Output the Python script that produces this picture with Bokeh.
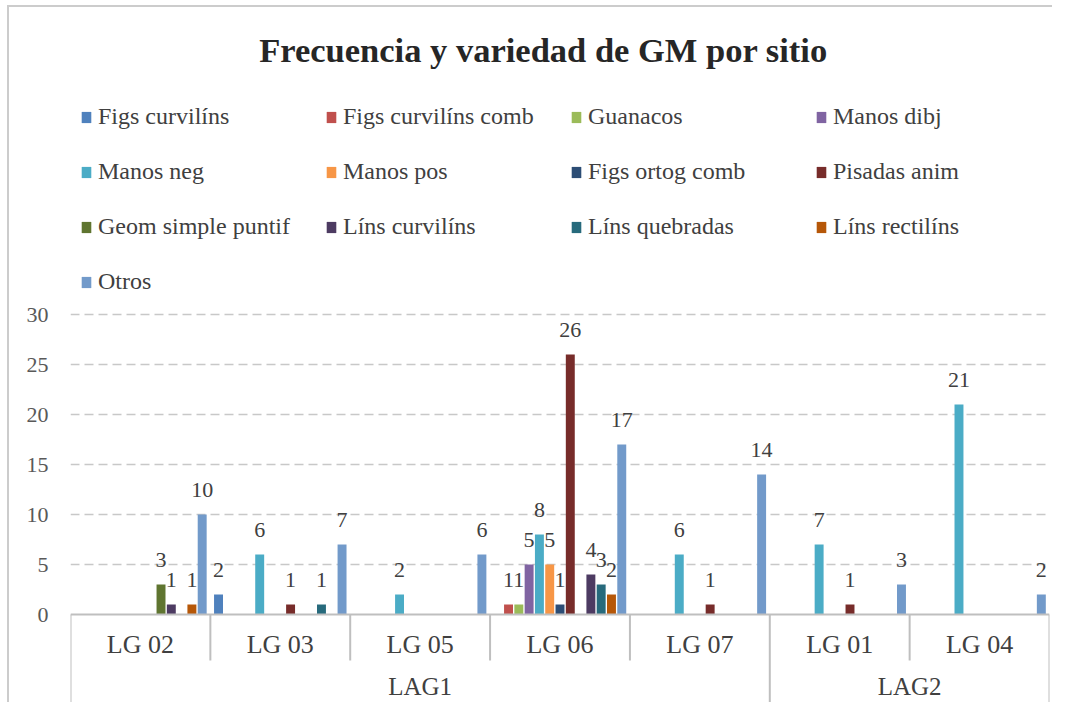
from bokeh.plotting import figure
from bokeh.models import (ColumnDataSource, FixedTicker, Legend, LegendItem, Label,
                          FactorRange, Range1d)
from bokeh.transform import dodge
from bokeh.core.properties import value
from bokeh.embed import file_html
from bokeh.resources import INLINE

# ---------------- data ----------------
sites = ["LG 02", "LG 03", "LG 05", "LG 06", "LG 07", "LG 01", "LG 04"]
site_groups = ["LAG1", "LAG1", "LAG1", "LAG1", "LAG1", "LAG2", "LAG2"]

series_names = ["Figs curvilíns", "Figs curvilíns comb", "Guanacos", "Manos dibj",
                "Manos neg", "Manos pos", "Figs ortog comb", "Pisadas anim",
                "Geom simple puntif", "Líns curvilíns", "Líns quebradas",
                "Líns rectilíns", "Otros"]

figs_curvilins = [0, 2, 0, 0, 0, 0, 0]
figs_curvilins_comb = [0, 0, 0, 1, 0, 0, 0]
guanacos = [0, 0, 0, 1, 0, 0, 0]
manos_dibj = [0, 0, 0, 5, 0, 0, 0]
manos_neg = [0, 6, 2, 8, 6, 7, 21]
manos_pos = [0, 0, 0, 5, 0, 0, 0]
figs_ortog_comb = [0, 0, 0, 1, 0, 0, 0]
pisadas_anim = [0, 1, 0, 26, 1, 1, 0]
geom_simple_puntif = [3, 0, 0, 0, 0, 0, 0]
lins_curvilins = [1, 0, 0, 4, 0, 0, 0]
lins_quebradas = [0, 1, 0, 3, 0, 0, 0]
lins_rectilins = [1, 0, 0, 2, 0, 0, 0]
otros = [10, 7, 6, 17, 14, 3, 2]

series_values = [figs_curvilins, figs_curvilins_comb, guanacos, manos_dibj, manos_neg,
                 manos_pos, figs_ortog_comb, pisadas_anim, geom_simple_puntif,
                 lins_curvilins, lins_quebradas, lins_rectilins, otros]

colors = ["#4F81BD", "#C0504D", "#9BBB59", "#8064A2", "#4BACC6", "#F79646",
          "#2C4D75", "#772C2A", "#5F7530", "#4D3B62", "#276A7C", "#B65708", "#729ACA"]

y_ticks = [0, 5, 10, 15, 20, 25, 30]
title_text = "Frecuencia y variedad de GM por sitio"

# ---------------- figure ----------------
FONT = "Liberation Serif"
p = figure(width=1052, height=702, output_backend="svg", toolbar_location=None,
           x_range=FactorRange(*sites, range_padding=0),
           y_range=Range1d(-8.8, 61.4),
           min_border_left=70, min_border_right=3, min_border_top=0, min_border_bottom=0)
p.outline_line_color = None
p.background_fill_color = None
p.border_fill_color = None
# chart-area border: thin grey lines along the left and top edge of the chart
p.styles = {
    "background": ("linear-gradient(#CCCCCC, #CCCCCC) 7px 5px / 2px 100% no-repeat, "
                   "linear-gradient(#CCCCCC, #CCCCCC) 7px 5px / 100% 2px no-repeat, white"),
}

p.xaxis.visible = False
p.xgrid.visible = False
p.yaxis.ticker = FixedTicker(ticks=y_ticks)
p.yaxis.axis_line_color = None
p.yaxis.major_tick_line_color = None
p.yaxis.minor_tick_line_color = None
p.yaxis.major_label_standoff = 16
p.yaxis.major_label_text_font = FONT
p.yaxis.major_label_text_font_size = "22px"
p.yaxis.major_label_text_color = "#595959"
p.ygrid.ticker = FixedTicker(ticks=[t for t in y_ticks if t > 0])
p.ygrid.grid_line_color = "#C8C8C8"
p.ygrid.grid_line_width = 1.5
p.ygrid.grid_line_dash = "9 5"

src = ColumnDataSource(dict(site=sites, **{f"s{i}": v for i, v in enumerate(series_values)}))

n = len(series_names)
slot = 0.0736
bar_w = 0.064
items = []
for i, (name, col) in enumerate(zip(series_names, colors)):
    off = (i - (n - 1) / 2) * slot
    r = p.vbar(x=dodge("site", off, range=p.x_range), top=f"s{i}", width=bar_w,
               source=src, fill_color=col, line_color=None)
    items.append(LegendItem(label=name, renderers=[r]))
    vals = series_values[i]
    lsrc = ColumnDataSource(dict(site=[s for s, v in zip(sites, vals) if v != 0],
                                 y=[v for v in vals if v != 0],
                                 t=[str(v) for v in vals if v != 0]))
    p.text(x=dodge("site", off, range=p.x_range), y="y", text="t", source=lsrc,
           text_align="center", text_baseline="middle", y_offset=-25,
           text_font=value(FONT), text_font_size="22px", text_color="#404040")

# ---------------- category table below the bars ----------------
line_col = "#BFBFBF"
base = ColumnDataSource(dict(a=[sites[0]], b=[sites[-1]]))
p.segment(x0=dodge("a", -0.5, range=p.x_range), y0=0, x1=dodge("b", 0.5, range=p.x_range), y1=0,
          source=base, line_color=line_col, line_width=2)

inner = [s for k, s in enumerate(sites) if k > 0 and site_groups[k] == site_groups[k - 1]]
outer = [s for k, s in enumerate(sites) if k == 0 or site_groups[k] != site_groups[k - 1]]
isrc = ColumnDataSource(dict(x=inner))
osrc = ColumnDataSource(dict(x=outer))
esrc = ColumnDataSource(dict(x=[sites[-1]]))
p.segment(x0=dodge("x", -0.5, range=p.x_range), y0=0, x1=dodge("x", -0.5, range=p.x_range), y1=-4.6,
          source=isrc, line_color=line_col, line_width=2)
p.segment(x0=dodge("x", -0.5, range=p.x_range), y0=0, x1=dodge("x", -0.5, range=p.x_range), y1=-8.8,
          source=osrc, line_color=line_col, line_width=2)
p.segment(x0=dodge("x", 0.5, range=p.x_range), y0=0, x1=dodge("x", 0.5, range=p.x_range), y1=-8.8,
          source=esrc, line_color=line_col, line_width=2)

csrc = ColumnDataSource(dict(x=sites, y=[-2.95] * len(sites), t=sites))
p.text(x="x", y="y", text="t", source=csrc, text_align="center", text_baseline="middle",
       text_font=value(FONT), text_font_size="26px", text_color="#404040")

# group labels centred under their sites
groups = []
for g in site_groups:
    if g not in groups:
        groups.append(g)
for g in groups:
    idx = [k for k, s in enumerate(site_groups) if s == g]
    mid = (idx[0] + idx[-1]) / 2
    gsrc = ColumnDataSource(dict(x=[sites[int(mid)]], y=[-7.15], t=[g]))
    p.text(x=dodge("x", mid - int(mid), range=p.x_range), y="y", text="t", source=gsrc,
           text_align="center", text_baseline="middle",
           text_font=value(FONT), text_font_size="25px", text_color="#404040")

# ---------------- title & legend ----------------
p.add_layout(Label(x=473, y=653, x_units="screen", y_units="screen", text=title_text,
                   text_align="center", text_baseline="middle",
                   text_font=FONT, text_font_size="34.5px", text_font_style="bold",
                   text_color="#262626"))

legend = Legend(items=items, ncols=4, orientation="horizontal", location=(10, 407),
                label_text_font=FONT, label_text_font_size="24px", label_text_color="#404040",
                glyph_width=12, glyph_height=14, label_standoff=6,
                label_width=199, label_height=25, spacing=28,
                padding=0, margin=0, border_line_color=None, background_fill_alpha=0)
p.add_layout(legend, "center")

open("out.html", "w").write(file_html(p, INLINE))
